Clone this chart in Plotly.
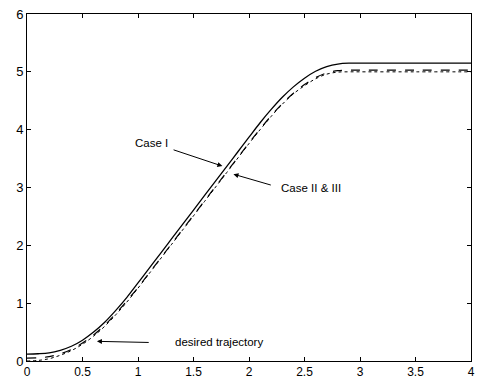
import plotly.graph_objects as go

t = [0.0, 0.1, 0.2, 0.3, 0.4, 0.5, 0.6, 0.7, 0.8, 0.9, 1.0, 1.1, 1.2, 1.3, 1.4,
     1.5, 1.6, 1.7, 1.8, 1.9, 2.0, 2.1, 2.2, 2.3, 2.4, 2.5, 2.6, 2.7, 2.8, 2.9,
     3.0, 3.5, 4.0]

case1 = [0.12, 0.125, 0.14, 0.185, 0.255, 0.36, 0.50, 0.67, 0.875, 1.10, 1.35,
         1.60, 1.854, 2.106, 2.358, 2.61, 2.862, 3.114, 3.366, 3.618, 3.87,
         4.12, 4.35, 4.56, 4.74, 4.89, 5.01, 5.09, 5.135, 5.15,
         5.15, 5.15, 5.15]

case23 = [0.05, 0.055, 0.075, 0.125, 0.20, 0.31, 0.45, 0.62, 0.82, 1.04, 1.27,
          1.52, 1.77, 2.02, 2.27, 2.52, 2.77, 3.02, 3.27, 3.52, 3.77,
          4.01, 4.24, 4.45, 4.63, 4.78, 4.90, 4.98, 5.02, 5.03,
          5.03, 5.03, 5.03]

desired = [0.0, 0.01, 0.04, 0.10, 0.18, 0.29, 0.43, 0.60, 0.80, 1.02, 1.26,
           1.51, 1.76, 2.01, 2.26, 2.51, 2.76, 3.01, 3.26, 3.51, 3.76,
           4.00, 4.23, 4.44, 4.62, 4.76, 4.88, 4.96, 4.995, 5.00,
           5.00, 5.00, 5.00]

x_ticks = [0, 0.5, 1, 1.5, 2, 2.5, 3, 3.5, 4]
x_tick_labels = ["0", "0.5", "1", "1.5", "2", "2.5", "3", "3.5", "4"]
y_ticks = [0, 1, 2, 3, 4, 5, 6]
y_tick_labels = ["0", "1", "2", "3", "4", "5", "6"]

FONT = "Liberation Sans, Arial, sans-serif"

fig = go.Figure()
fig.add_trace(go.Scatter(x=t, y=desired, mode="lines", name="desired trajectory",
                         line=dict(color="black", width=1, dash="dot", shape="spline")))
fig.add_trace(go.Scatter(x=t, y=case23, mode="lines", name="Case II & III",
                         line=dict(color="black", width=1.2, dash="dash", shape="spline")))
fig.add_trace(go.Scatter(x=t, y=case1, mode="lines", name="Case I",
                         line=dict(color="black", width=1.3, shape="spline")))

# arrows
arrows = [
    dict(x=1.76, y=3.37, ax=1.307, ay=3.66),
    dict(x=1.86, y=3.23, ax=2.21, ay=3.035),
    dict(x=0.63, y=0.34, ax=1.11, ay=0.32),
]
for a in arrows:
    fig.add_annotation(x=a["x"], y=a["y"], ax=a["ax"], ay=a["ay"],
                       xref="x", yref="y", axref="x", ayref="y",
                       text="", showarrow=True, arrowhead=2, arrowsize=1,
                       arrowwidth=1, arrowcolor="black")

labels = [
    dict(x=1.12, y=3.77, text="Case I"),
    dict(x=2.56, y=3.0, text="Case II &amp; III"),
    dict(x=1.73, y=0.32, text="desired trajectory"),
]
for lb in labels:
    fig.add_annotation(x=lb["x"], y=lb["y"], xref="x", yref="y", text=lb["text"],
                       showarrow=False, font=dict(family=FONT, size=11.5, color="black"))

fig.update_layout(
    width=477, height=378,
    margin=dict(l=27, r=6, t=14, b=17, autoexpand=False),
    paper_bgcolor="white", plot_bgcolor="white",
    showlegend=False,
    font=dict(family=FONT, size=13, color="black"),
)
fig.update_xaxes(range=[0, 4], tickvals=x_ticks, ticktext=x_tick_labels,
                 ticks="inside", ticklen=4, tickcolor="black", showline=True,
                 linecolor="black", linewidth=1, mirror="ticks", showgrid=False,
                 zeroline=False, tickfont=dict(size=12), automargin=False,
                 ticklabeloverflow="allow")
fig.update_yaxes(range=[0, 6], tickvals=y_ticks, ticktext=y_tick_labels,
                 ticks="inside", ticklen=4, tickcolor="black", showline=True,
                 linecolor="black", linewidth=1, mirror="ticks", showgrid=False,
                 zeroline=False, tickfont=dict(size=13), automargin=False,
                 ticklabeloverflow="allow")

# remove the default 8px page margin so the 477x378 figure fills the window
fig.write_html("out.html",
               config={"displayModeBar": False},
               post_script="document.body.style.margin='0';document.body.style.overflow='hidden';")
